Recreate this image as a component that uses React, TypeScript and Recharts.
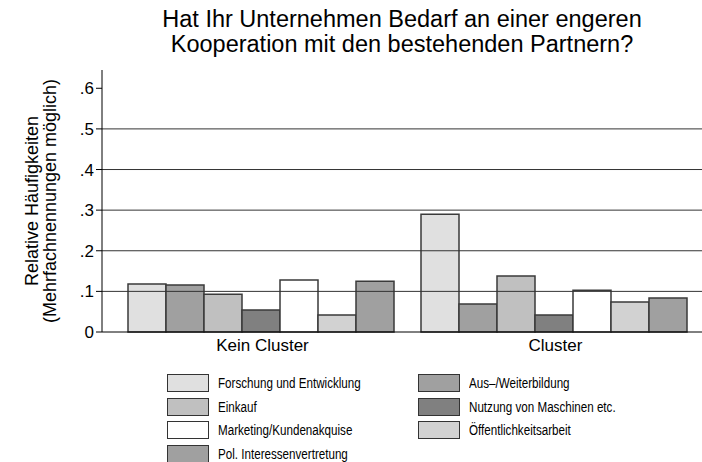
import { Bar, BarChart, ReferenceLine, XAxis, YAxis } from "recharts";

const groups = ["Kein Cluster", "Cluster"];

const seriesNames = [
  "Forschung und Entwicklung",
  "Aus–/Weiterbildung",
  "Einkauf",
  "Nutzung von Maschinen etc.",
  "Marketing/Kundenakquise",
  "Öffentlichkeitsarbeit",
  "Pol. Interessenvertretung",
];

const seriesColors = [
  "#e0e0e0",
  "#a0a0a0",
  "#c0c0c0",
  "#808080",
  "#ffffff",
  "#d2d2d2",
  "#a0a0a0",
];

// one array per series: [Kein Cluster, Cluster]
const forschung = [0.118, 0.29];
const ausbildung = [0.116, 0.069];
const einkauf = [0.093, 0.138];
const maschinen = [0.054, 0.042];
const marketing = [0.128, 0.103];
const oeffentlichkeit = [0.042, 0.074];
const interessen = [0.125, 0.084];

const yTicks = [0, 0.1, 0.2, 0.3, 0.4, 0.5, 0.6];
const gridValues = [0.1, 0.2, 0.3, 0.4, 0.5];

const seriesValues = [
  forschung,
  ausbildung,
  einkauf,
  maschinen,
  marketing,
  oeffentlichkeit,
  interessen,
];

const data = groups.map((g, i) => {
  const row: Record<string, string | number> = { group: g };
  seriesNames.forEach((name, s) => {
    row[`s${s}`] = seriesValues[s][i];
  });
  return row;
});

const FONT = "'Liberation Sans', Arial, sans-serif";

function fmtTick(v: number) {
  if (v === 0) return "0";
  return v.toFixed(1).replace(/^0/, "");
}

function YLabel(props: any) {
  const { viewBox } = props;
  const cy = viewBox.y + viewBox.height / 2;
  return (
    <text
      transform={`translate(0, ${cy}) rotate(-90)`}
      textAnchor="middle"
      fontSize={18}
      fontFamily={FONT}
      fill="#000"
    >
      <tspan x={0} y={38}>
        Relative Häufigkeiten
      </tspan>
      <tspan x={0} y={56}>
        (Mehrfachnennungen möglich)
      </tspan>
    </text>
  );
}

export default function App() {
  return (
    <div
      style={{
        position: "absolute",
        left: 0,
        top: 0,
        width: 702,
        height: 462,
        background: "#fff",
        fontFamily: FONT,
      }}
    >
      <div
        style={{
          position: "absolute",
          left: 102,
          width: 600,
          top: 7,
          textAlign: "center",
          fontSize: 23.5,
          lineHeight: "25px",
          color: "#000",
        }}
      >
        Hat Ihr Unternehmen Bedarf an einer engeren
        <br />
        Kooperation mit den bestehenden Partnern?
      </div>
      <BarChart
        width={702}
        height={462}
        data={data}
        margin={{ top: 70, right: 0, bottom: 100, left: 0 }}
        barCategoryGap={12}
        barGap={0}
      >
        {gridValues.map((v) => (
          <ReferenceLine key={v} y={v} stroke="#333" strokeWidth={1} />
        ))}
        <XAxis
          dataKey="group"
          tickLine={false}
          axisLine={{ stroke: "#000" }}
          height={30}
          padding={{ left: 14, right: 0 }}
          tick={{ fontSize: 17, fill: "#000", fontFamily: FONT }}
          tickMargin={1}
        />
        <YAxis
          width={102}
          domain={[0, 0.645]}
          ticks={yTicks}
          tickFormatter={fmtTick}
          axisLine={{ stroke: "#000" }}
          tickLine={{ stroke: "#000" }}
          tickSize={6}
          tick={{ fontSize: 17, fill: "#000", fontFamily: FONT }}
          label={<YLabel />}
        />
        {seriesNames.map((name, s) => (
          <Bar
            key={name}
            dataKey={`s${s}`}
            name={name}
            fill={seriesColors[s]}
            stroke="#3a3a3a"
            strokeWidth={1.5}
            isAnimationActive={false}
          />
        ))}
      </BarChart>
      {seriesNames.map((name, s) => {
        const col = s % 2;
        const row = Math.floor(s / 2);
        return (
          <div
            key={name}
            style={{
              position: "absolute",
              left: col === 0 ? 167 : 418,
              top: 374 + row * 23.7,
              height: 18,
              display: "flex",
              alignItems: "center",
              fontSize: 14,
              color: "#000",
              whiteSpace: "nowrap",
            }}
          >
            <span
              style={{
                display: "inline-block",
                width: 40,
                height: 16,
                background: seriesColors[s],
                border: "1px solid #333",
                marginRight: 9,
              }}
            />
            <span
              style={{
                display: "inline-block",
                transform: "scaleX(0.83)",
                transformOrigin: "left center",
              }}
            >
              {name}
            </span>
          </div>
        );
      })}
    </div>
  );
}
